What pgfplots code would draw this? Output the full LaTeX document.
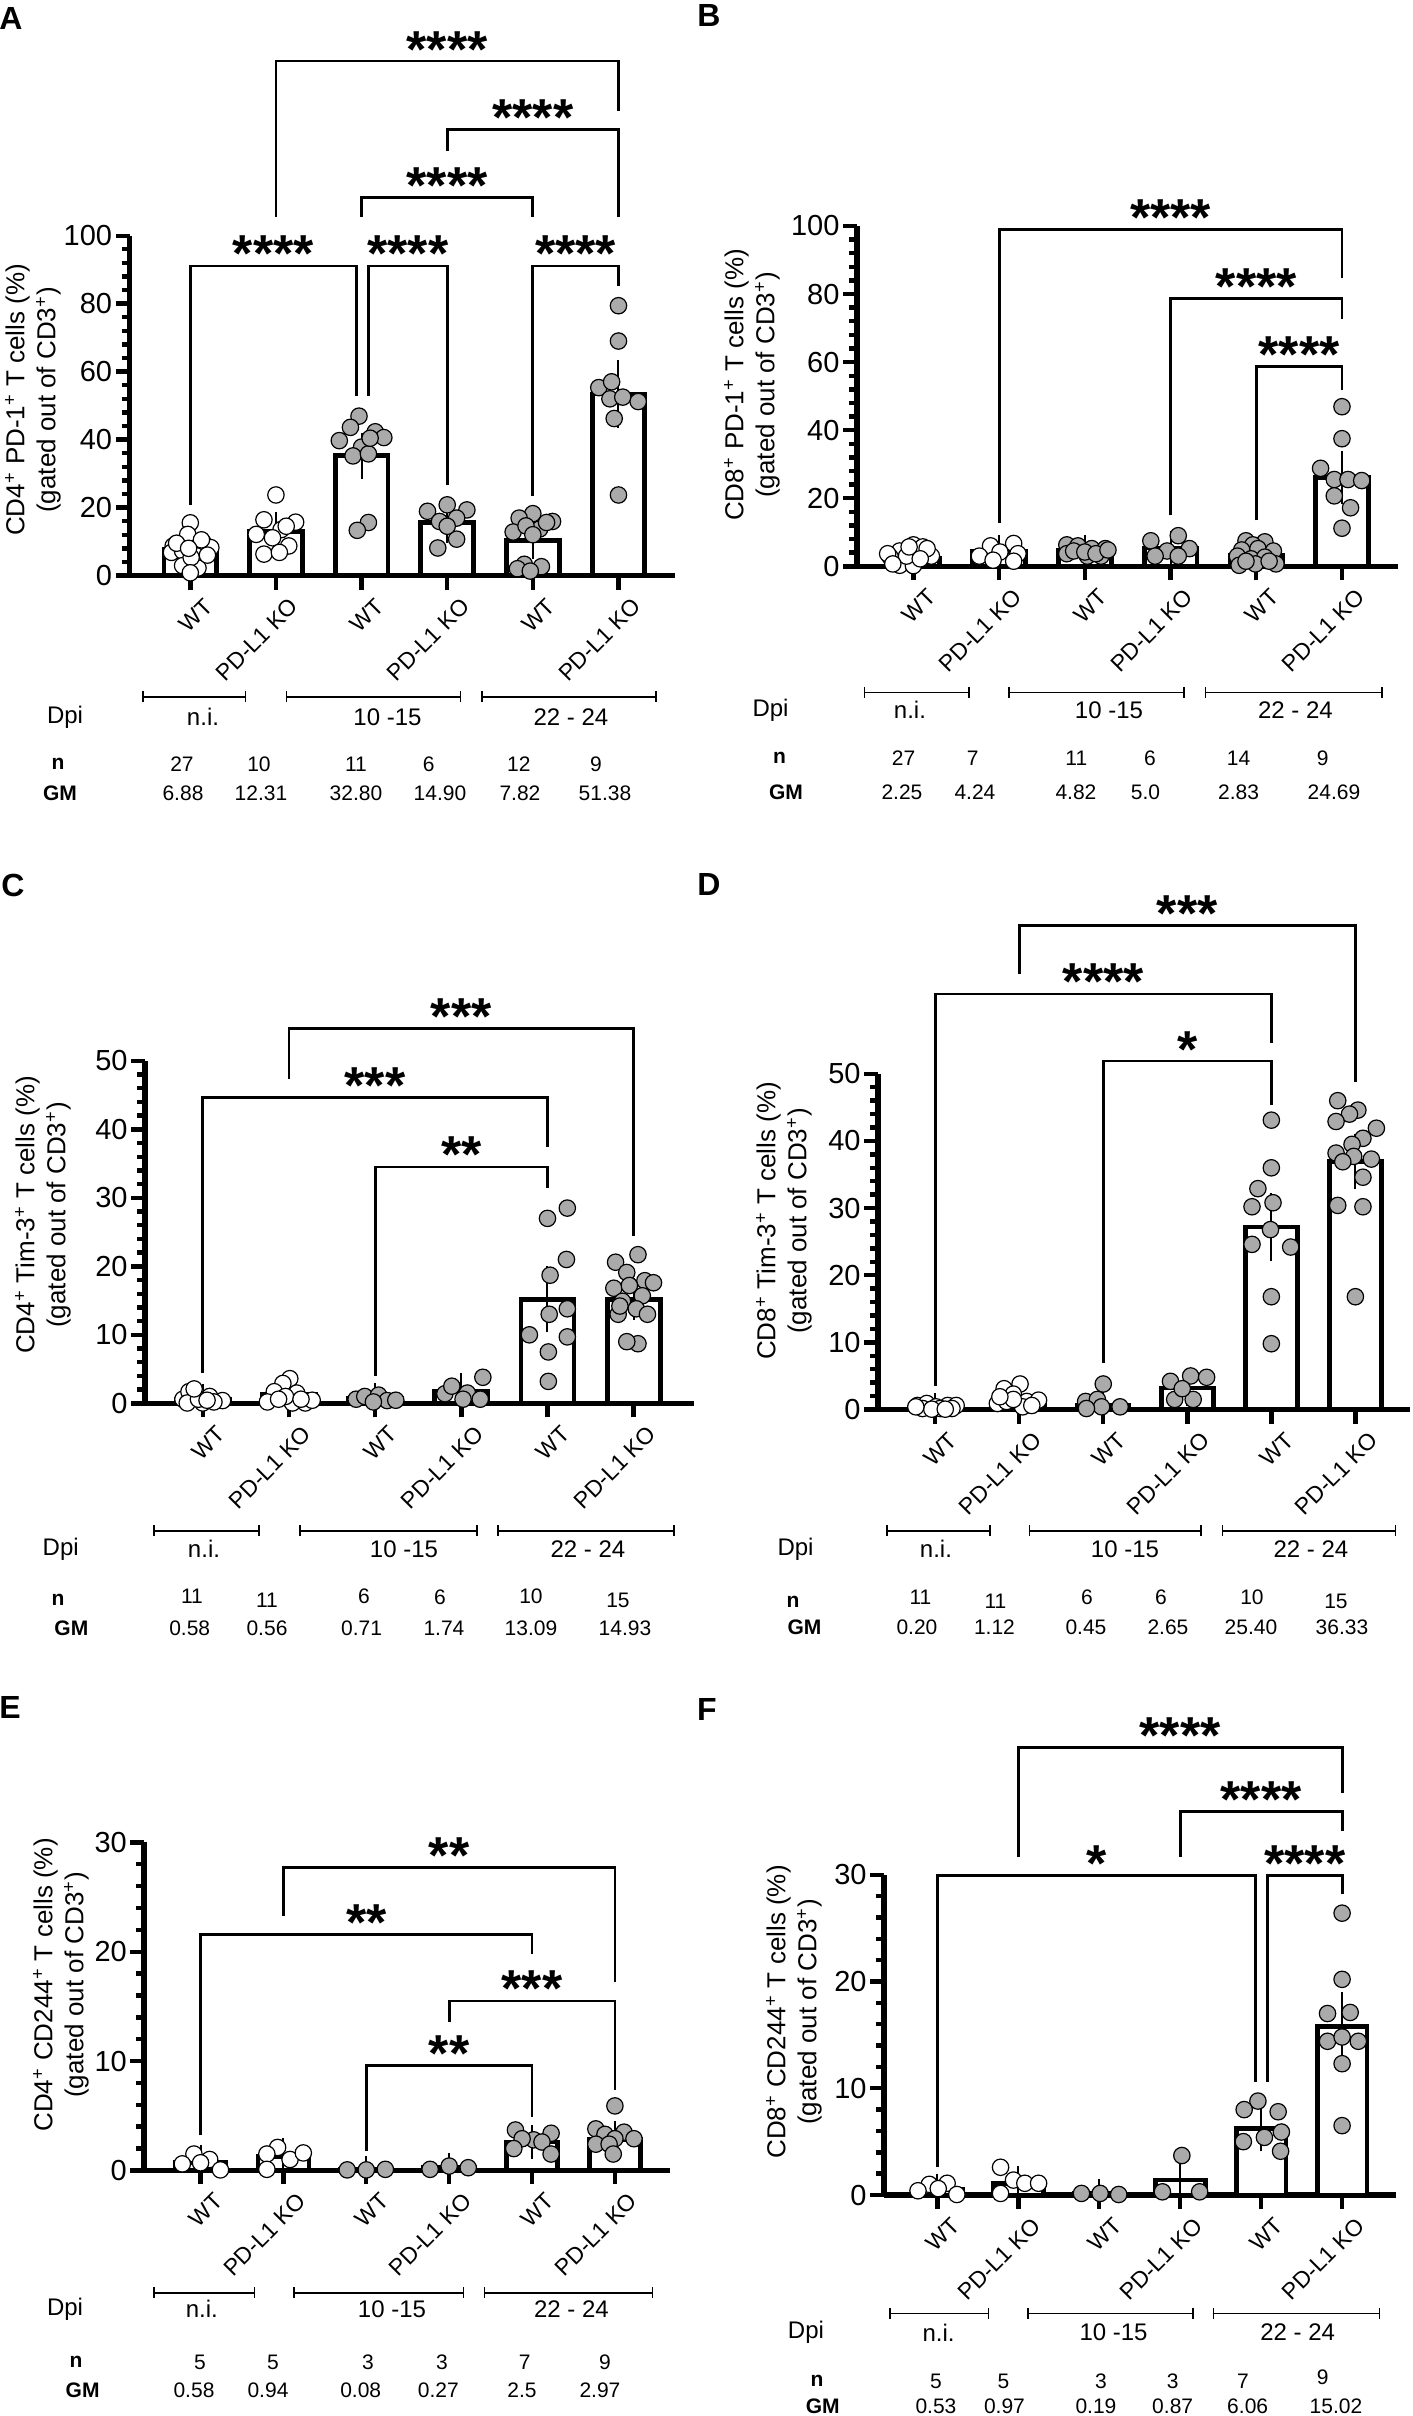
\documentclass[border=0pt]{standalone}
\usepackage{pgfplots}
\pgfplotsset{compat=1.18}
\usepackage{fontspec}
\setmainfont{Liberation Sans}
\definecolor{dotgray}{RGB}{170,170,170}

\newcommand{\fDpi}{\fontsize{12bp}{14bp}\selectfont}
\newcommand{\fNum}{\fontsize{10.5bp}{12bp}\selectfont}
\newcommand{\fLab}{\fontsize{13bp}{15.5bp}\selectfont}
\newcommand{\fLet}{\fontsize{16bp}{18bp}\selectfont\bfseries}

\pgfplotsset{
  panel/.style={
    scale only axis, anchor=south west, clip=false, enlargelimits=false,
    axis x line*=bottom, axis y line*=left,
    axis line style={line width=2.8bp,-},
    ymin=0,
    xtick={0,1,2,3,4,5},
    xticklabels={WT,PD-L1 KO,WT,PD-L1 KO,WT,PD-L1 KO},
    tick align=outside,
    major tick length=7bp, minor tick length=4bp,
    every tick/.style={black, line width=2.2bp},
    minor y tick num=4,
    /pgf/number format/assume math mode=true,
    yticklabel style={font=\fontsize{14.5bp}{16bp}\selectfont, inner sep=1.5bp},
    xticklabel style={font=\fontsize{11.5bp}{13bp}\selectfont, rotate=45, anchor=east, inner sep=1.5bp, yshift=-11bp, xshift=3.5bp},
  },
  barst/.style={ybar, bar shift=0pt, bar width=0.615, fill=white, draw=black, line width=2.4bp},
  wdots/.style={only marks, mark=*, mark size=4.1bp, mark options={draw=black, fill=white, line width=0.6bp}},
  gdots/.style={only marks, mark=*, mark size=4.1bp, mark options={draw=black, fill=dotgray, line width=0.6bp}},
  errs/.style={draw=none, mark=none, error bars/.cd, y dir=both, y explicit,
    error bar style={line width=1bp, black, draw=black}, error mark options={line width=1bp, black, draw=black, mark size=7bp}},
}
\tikzset{
  brk/.style={line width=1.4bp, black},
  stars/.style={font=\fontsize{26bp}{26bp}\selectfont\bfseries, anchor=base, yshift=-3bp, inner sep=0pt},
}
\newcommand{\sig}[6]{%
  \draw[brk] (axis cs:#1,#4) -- (axis cs:#1,#3) -- (axis cs:#2,#3) -- (axis cs:#2,#5);
  \node[stars] at (axis cs:{(#1+#2)/2},#3) {#6};}
\newcommand{\dpiline}[3]{\draw[line width=0.75bp] (#1,#3) -- (#2,#3) (#1,#3-5.5) -- (#1,#3+5.5) (#2,#3-5.5) -- (#2,#3+5.5);}

\begin{document}
\begin{tikzpicture}
\useasboundingbox (0,0) rectangle (706.5bp,-1208bp);

% ---------------- A ----------------
\begin{axis}[panel, at={(64.75bp,-287.75bp)}, width=272.75bp, height=169.9bp,
  xmin=-0.71, xmax=5.66, ymax=100, ytick={0,20,...,100}]
\addplot[barst] coordinates {(0,7.7) (1,13.0) (2,35.2) (3,15.6) (4,10.4) (5,53.4)};
\addplot[wdots] coordinates {(0,15.5) (-0.03,12.1) (-0.2,8.7) (0.15,9.7) (0.24,8.2) (-0.22,6.8) (-0.09,7.2) (0.07,5.8) (-0.09,2.9) (0.09,2.2) (0.01,5.3) (0.13,10.5) (-0.16,9.5) (0.2,6) (-0.02,8.0) (0.0,0.8)
 (1,23.7) (0.86,16.4) (1.23,15.7) (0.77,12.1) (1.06,13.5) (0.96,11.1) (1.15,8.7) (0.86,6.3) (1.04,6.8) (1.12,14.5)};
\addplot[gdots] coordinates {(1.97,46.9) (1.87,43.6) (2.16,42.3) (2.26,40.6) (1.74,39.7) (2,37.8) (1.9,35.2) (2.08,35.8) (2.1,40.4) (2.08,15.6) (1.95,13.3)
 (3,20.8) (2.77,18.9) (3.23,19.3) (2.91,15.9) (3.11,16.9) (3.11,10.7) (2.89,8.1) (3.0,14.5)
 (4,18.2) (3.84,16.9) (4.23,15.9) (3.77,12.8) (4.08,13.7) (3.92,14.6) (4.16,15.6) (4.0,12.0) (3.9,3.3) (4.1,2.6) (3.82,2.0) (3.97,1.3)
 (5,79.4) (5,69) (4.77,55.3) (4.92,57) (4.9,52) (5.05,52.5) (5.23,51.2) (4.95,46.2) (5,23.7)};
\addplot[errs] coordinates {(0,7.7) +- (0,0.8) (1,13.0) +- (0,1.6) (2,35.2) +- (0,2.6) (3,15.6) +- (0,1.8) (4,10.4) +- (0,1.3) (5,53.4) +- (0,5.8)};
\sig{0}{1.94}{91.1}{20.8}{52.7}{****}
\sig{2.08}{3}{91.1}{52.7}{26.7}{****}
\sig{4}{5}{91.1}{23.4}{85.3}{****}
\sig{2}{4}{111.3}{105.5}{105.5}{****}
\sig{3}{5}{131.3}{125}{105.5}{****}
\sig{1}{5}{151.4}{105.5}{136.7}{****}
\end{axis}

% ---------------- B ----------------
\begin{axis}[panel, at={(428.4bp,-283.15bp)}, width=270.45bp, height=170.15bp,
  xmin=-0.66, xmax=5.65, ymax=100, ytick={0,20,...,100}]
\addplot[barst] coordinates {(0,2.3) (1,4.3) (2,4.6) (3,5.4) (4,3.2) (5,26.2)};
\addplot[wdots] coordinates {(0,6.3) (0.11,5.7) (-0.16,4.5) (0.21,3.0) (-0.27,2.7) (0.05,1.5) (-0.16,0.3) (0,0.2) (-0.3,3.7) (-0.08,3.0) (0.16,5.2) (-0.24,0.7) (-0.05,5.7) (0.08,2.2)
 (1.17,6.7) (0.9,6.0) (0.77,3.0) (1.01,4.2) (1.22,3.7) (0.93,1.8) (1.17,1.5)};
\addplot[gdots] coordinates {(1.79,6.3) (1.92,6.0) (2.08,5.2) (2.24,5.2) (1.79,3.7) (2.03,3.0) (2.19,3.0) (1.87,4.5) (2,4.2) (2.13,3.7) (2.27,4.8)
 (3.09,9.0) (2.77,7.5) (3.22,5.2) (2.96,4.5) (2.82,3.0) (3.09,3.0)
 (3.88,7.5) (4.1,7.2) (3.96,6.3) (3.83,4.8) (4.02,5.2) (4.2,4.5) (3.78,3.0) (3.94,2.2) (4.1,2.7) (4.23,0.7) (3.8,0.3) (3.99,0.7) (4.15,1.5) (3.88,1.5)
 (5,46.9) (5,37.5) (4.75,28.8) (4.91,25.5) (5.07,25.5) (5.23,25.2) (4.91,20.7) (5.1,17.2) (5,11.2)};
\addplot[errs] coordinates {(0,2.3) +- (0,0.4) (1,4.3) +- (0,0.7) (2,4.6) +- (0,0.4) (3,5.4) +- (0,1.0) (4,3.2) +- (0,0.6) (5,26.2) +- (0,3.7)};
\sig{1}{5}{99}{12.7}{84.7}{****}
\sig{3}{5}{78.7}{15}{72.7}{****}
\sig{4}{5}{58.8}{13.5}{51.7}{****}
\end{axis}

% ---------------- C ----------------
\begin{axis}[panel, at={(72.5bp,-701.65bp)}, width=274.5bp, height=171.25bp,
  xmin=-0.67, xmax=5.70, ymax=50, ytick={0,10,...,50}]
\addplot[barst] coordinates {(0,0.6) (1,1.3) (2,0.7) (3,1.8) (4,15.2) (5,15.2)};
\addplot[wdots] coordinates {(-0.23,0.6) (-0.16,1.7) (-0.08,1.4) (0.08,1.0) (0.23,0.4) (0,0.05) (-0.18,0.05) (0.13,0.2) (-0.05,0.6) (0.05,0.45) (-0.1,2.1)
 (1.01,3.6) (0.93,2.9) (0.83,1.7) (1.09,1.5) (0.75,0.2) (1.04,0.05) (1.19,0.05) (1.27,0.45) (0.96,1.0) (1.14,0.6) (0.88,0.6)};
\addplot[gdots] coordinates {(1.78,0.6) (1.88,1.0) (2.04,1.2) (2.14,0.4) (2.24,0.45) (1.98,0.2)
 (2.81,1.4) (2.89,2.5) (3.07,1.5) (3.25,3.8) (3.22,0.6) (3.02,0.6)
 (4,27) (4.23,28.5) (4.22,21) (4.03,18.7) (4.23,13.8) (4.02,13) (3.79,10) (4.23,9.7) (4.01,7.5) (4.01,3.2)
 (5.05,21.7) (4.79,20.6) (4.92,19.1) (5.13,17.9) (4.77,16.8) (4.95,17.2) (5.23,17.6) (5.1,15.7) (4.87,14.9) (5.03,13.8) (4.82,13) (5.16,13) (5.05,8.7) (4.92,9) (4.84,14.2)};
\addplot[errs] coordinates {(0,0.6) +- (0,0.2) (1,1.3) +- (0,0.4) (2,0.7) +- (0,0.2) (3,1.8) +- (0,0.6) (4,15.2) +- (0,2.8) (5,15.2) +- (0,1.0)};
\sig{0}{4}{44.7}{4.4}{37.4}{***}
\sig{2}{4}{34.5}{4.0}{31.5}{**}
\sig{1}{5}{54.7}{47.4}{24.4}{***}
\end{axis}

% ---------------- D ----------------
\begin{axis}[panel, at={(439bp,-704.75bp)}, width=266bp, height=167.85bp,
  xmin=-0.68, xmax=5.65, ymax=50, ytick={0,10,...,50}]
\addplot[barst] coordinates {(0,0.25) (1,1.3) (2,0.6) (3,3.2) (4,27.2) (5,37.0)};
\addplot[wdots] coordinates {(-0.21,0.6) (-0.1,0.9) (0.01,0.4) (0.15,0.6) (0.25,0.6) (-0.15,0.15) (0.06,0.15) (-0.04,0.05) (0.2,0.15) (-0.23,0.4) (0.12,0.05)
 (1.01,3.8) (0.82,3.1) (0.93,2.3) (0.74,0.9) (1.09,1.2) (1.23,1.4) (0.85,1.2) (1.04,0.4) (1.15,0.6) (0.93,1.5) (0.77,1.9)};
\addplot[gdots] coordinates {(2,3.8) (1.79,1.2) (1.93,1.5) (1.98,0.4) (2.2,0.4) (1.8,0.15)
 (2.8,4.2) (3.04,5.0) (3.23,4.8) (2.85,1.5) (3.07,1.5) (2.94,3.1)
 (4,43.1) (4,36) (3.84,32.9) (4.02,30.8) (3.77,30.2) (3.99,26.8) (3.77,24.6) (4.23,24.2) (4,16.8) (4,9.8)
 (4.79,46) (5.03,44.6) (4.93,44) (4.77,42.9) (5.25,41.9) (5.09,40.4) (4.96,39.5) (4.77,38.2) (5.19,37.3) (4.98,37.7) (5.09,34.6) (4.79,30.4) (5.09,30.2) (5,16.8) (4.85,36.9)};
\addplot[errs] coordinates {(0,0.25) +- (0,0.1) (1,1.3) +- (0,0.35) (2,0.6) +- (0,0.6) (3,3.2) +- (0,0.6) (4,27.2) +- (0,3.0) (5,37.0) +- (0,2.0)};
\sig{0}{4}{61.9}{3.5}{54.6}{****}
\sig{2}{4}{51.9}{6.9}{45.4}{*}
\sig{1}{5}{72.1}{64.8}{48.8}{***}
\end{axis}

% ---------------- E ----------------
\begin{axis}[panel, at={(72.1bp,-1085.2bp)}, width=262.7bp, height=164bp,
  xmin=-0.68, xmax=5.66, ymax=30, ytick={0,10,20,30}]
\addplot[barst] coordinates {(0,0.7) (1,1.3) (2,0.05) (3,0.25) (4,2.6) (5,2.8)};
\addplot[wdots] coordinates {(-0.08,1.5) (0.11,1.0) (-0.22,0.6) (0,0.7) (0.24,0.05)
 (0.93,2.1) (0.8,1.5) (1.08,1.0) (1.24,1.6) (0.8,0.1)};
\addplot[gdots] coordinates {(1.77,0.05) (2,0.05) (2.23,0.1)
 (2.77,0.1) (3,0.4) (3.23,0.25)
 (3.8,3.7) (4.23,3.4) (4.02,2.8) (3.88,2.9) (4.12,2.6) (3.78,2.0) (4.23,1.5)
 (5,5.9) (4.77,3.8) (4.88,3.3) (5.11,3.5) (5.23,2.9) (5,2.9) (4.77,2.4) (4.93,2.4) (4.98,1.5)};
\addplot[errs] coordinates {(0,0.7) +- (0,0.3) (1,1.3) +- (0,0.35) (2,0.05) +- (0,0.03) (3,0.25) +- (0,0.1) (4,2.6) +- (0,0.3) (5,2.8) +- (0,0.4)};
\sig{0}{4}{21.6}{3.2}{19.8}{**}
\sig{2}{4}{9.6}{1.8}{4.9}{**}
\sig{3}{5}{15.5}{13.6}{7.4}{***}
\sig{1}{5}{27.7}{23.3}{17.2}{**}
\end{axis}

% ---------------- F ----------------
\begin{axis}[panel, at={(442bp,-1097.5bp)}, width=255.75bp, height=160.15bp,
  xmin=-0.66, xmax=5.66, ymax=30, ytick={0,10,20,30}]
\addplot[barst] coordinates {(0,0.5) (1,1.1) (2,0.15) (3,1.4) (4,6.2) (5,15.8)};
\addplot[wdots] coordinates {(-0.1,1.0) (0.12,1.1) (-0.24,0.4) (0.01,0.6) (0.24,0.05)
 (0.78,2.6) (0.94,1.4) (1.08,1.1) (1.25,1.1) (0.78,0.15)};
\addplot[gdots] coordinates {(1.78,0.15) (2.01,0.15) (2.24,0.05)
 (3.02,3.7) (2.78,0.3) (3.24,0.3)
 (3.96,8.8) (3.79,8.0) (4.21,7.8) (4.04,5.4) (4.25,5.9) (3.78,5.0) (4.24,4.1)
 (5,26.4) (5,20.2) (4.82,17.0) (5.1,17.1) (4.82,14.4) (5.2,14.4) (5,14.8) (5,12.3) (5,6.5)};
\addplot[errs] coordinates {(0,0.5) +- (0,0.2) (1,1.1) +- (0,0.3) (2,0.15) +- (0,0.05) (3,1.4) +- (0,1.2) (4,6.2) +- (0,0.8) (5,15.8) +- (0,1.9)};
\sig{0}{3.93}{29.9}{2.6}{10.6}{*}
\sig{4.08}{5}{29.9}{10.6}{28.2}{****}
\sig{3}{5}{35.9}{31.7}{34.1}{****}
\sig{1}{5}{41.9}{31.7}{37.7}{****}
\end{axis}

% ---------------- annotations (pixel coordinates, y downward) ----------------
\begin{scope}[x=0.5bp, y=-0.5bp]
% panel letters
\node[font=\fLet] at (11,18) {A};
\node[font=\fLet] at (709,15) {B};
\node[font=\fLet] at (13,885) {C};
\node[font=\fLet] at (709,885) {D};
\node[font=\fLet] at (10,1708) {E};
\node[font=\fLet] at (707,1710) {F};
% y labels
\node[font=\fLab, rotate=90, align=center] at (33,400) {CD4\textsuperscript{+} PD-1\textsuperscript{+} T cells (\%)\\(gated out of CD3\textsuperscript{+})};
\node[font=\fLab, rotate=90, align=center] at (752,385) {CD8\textsuperscript{+} PD-1\textsuperscript{+} T cells (\%)\\(gated out of CD3\textsuperscript{+})};
\node[font=\fLab, rotate=90, align=center] at (43,1215) {CD4\textsuperscript{+} Tim-3\textsuperscript{+} T cells (\%)\\(gated out of CD3\textsuperscript{+})};
\node[font=\fLab, rotate=90, align=center] at (784,1221) {CD8\textsuperscript{+} Tim-3\textsuperscript{+} T cells (\%)\\(gated out of CD3\textsuperscript{+})};
\node[font=\fLab, rotate=90, align=center] at (61,1985) {CD4\textsuperscript{+} CD244\textsuperscript{+} T cells (\%)\\(gated out of CD3\textsuperscript{+})};
\node[font=\fLab, rotate=90, align=center] at (794,2012) {CD8\textsuperscript{+} CD244\textsuperscript{+} T cells (\%)\\(gated out of CD3\textsuperscript{+})};

% A
\dpiline{143}{245.5}{697} \dpiline{286.6}{460.7}{697} \dpiline{482}{656}{697}
\begin{scope}[font=\fDpi]
\node[anchor=west] at (40,717) {Dpi};
\node at (203,717) {n.i.}; \node at (387.5,717) {10 -15}; \node at (571,717) {22 - 24};
\end{scope}
\begin{scope}[font=\fNum]
\node[font=\fNum\bfseries] at (58,764) {n}; \node[font=\fNum\bfseries] at (60,793) {GM};
\node at (182,764) {27}; \node at (259,764) {10}; \node at (356,764) {11}; \node at (428.6,764) {6}; \node at (518.8,764) {12}; \node at (596,764) {9};
\node at (183,793) {6.88}; \node at (261,793) {12.31}; \node at (356,793) {32.80}; \node at (440,793) {14.90}; \node at (520,793) {7.82}; \node at (605,793) {51.38};
\end{scope}

% B
\dpiline{864.5}{969}{692.3} \dpiline{1009}{1184}{692.3} \dpiline{1205.5}{1381.8}{692.3}
\begin{scope}[font=\fDpi]
\node[anchor=west] at (745.5,710) {Dpi};
\node at (910,710) {n.i.}; \node at (1109,710) {10 -15}; \node at (1295.5,710) {22 - 24};
\end{scope}
\begin{scope}[font=\fNum]
\node[font=\fNum\bfseries] at (779.5,758) {n}; \node[font=\fNum\bfseries] at (786,792) {GM};
\node at (903.6,758) {27}; \node at (972.7,758) {7}; \node at (1076.4,758) {11}; \node at (1150,758) {6}; \node at (1238.6,758) {14}; \node at (1322.7,758) {9};
\node at (902,792) {2.25}; \node at (975,792) {4.24}; \node at (1076,792) {4.82}; \node at (1145.5,792) {5.0}; \node at (1238.6,792) {2.83}; \node at (1334,792) {24.69};
\end{scope}

% C
\dpiline{154}{259}{1531} \dpiline{300}{476.8}{1531} \dpiline{497.8}{674}{1531}
\begin{scope}[font=\fDpi]
\node[anchor=west] at (35.7,1549) {Dpi};
\node at (204,1549) {n.i.}; \node at (404,1549) {10 -15}; \node at (588,1549) {22 - 24};
\end{scope}
\begin{scope}[font=\fNum]
\node[font=\fNum\bfseries] at (58,1600) {n}; \node[font=\fNum\bfseries] at (71.4,1628) {GM};
\node at (192,1596) {11}; \node at (267,1600) {11}; \node at (364,1596) {6}; \node at (440,1597) {6}; \node at (531,1596) {10}; \node at (618,1600) {15};
\node at (189.7,1628) {0.58}; \node at (267,1628) {0.56}; \node at (361.6,1628) {0.71}; \node at (444,1628) {1.74}; \node at (531,1628) {13.09}; \node at (625,1628) {14.93};
\end{scope}

% D
\dpiline{887}{990}{1531} \dpiline{1029.5}{1201}{1531} \dpiline{1222.7}{1395.5}{1531}
\begin{scope}[font=\fDpi]
\node[anchor=west] at (770.5,1549) {Dpi};
\node at (936,1549) {n.i.}; \node at (1125,1549) {10 -15}; \node at (1311,1549) {22 - 24};
\end{scope}
\begin{scope}[font=\fNum]
\node[font=\fNum\bfseries] at (793,1602) {n}; \node[font=\fNum\bfseries] at (804.5,1627) {GM};
\node at (920.5,1597) {11}; \node at (995.5,1601) {11}; \node at (1087,1597) {6}; \node at (1161,1597) {6}; \node at (1252,1597) {10}; \node at (1336,1601) {15};
\node at (917,1627) {0.20}; \node at (994.5,1627) {1.12}; \node at (1086,1627) {0.45}; \node at (1168,1627) {2.65}; \node at (1251,1627) {25.40}; \node at (1342,1627) {36.33};
\end{scope}

% E
\dpiline{154}{254.5}{2293} \dpiline{293.8}{463.4}{2293} \dpiline{484.4}{652.7}{2293}
\begin{scope}[font=\fDpi]
\node[anchor=west] at (40,2309) {Dpi};
\node at (201.8,2309) {n.i.}; \node at (392,2309) {10 -15}; \node at (571.4,2309) {22 - 24};
\end{scope}
\begin{scope}[font=\fNum]
\node[font=\fNum\bfseries] at (76,2362) {n}; \node[font=\fNum\bfseries] at (82.6,2390) {GM};
\node at (200,2362) {5}; \node at (273,2362) {5}; \node at (368,2362) {3}; \node at (442,2362) {3}; \node at (524.6,2362) {7}; \node at (605,2362) {9};
\node at (194,2390) {0.58}; \node at (268,2390) {0.94}; \node at (360.7,2390) {0.08}; \node at (438.4,2390) {0.27}; \node at (522,2390) {2.5}; \node at (600,2390) {2.97};
\end{scope}

% F
\dpiline{890}{988.6}{2313.3} \dpiline{1028}{1193}{2313.3} \dpiline{1213.6}{1379.5}{2313.3}
\begin{scope}[font=\fDpi]
\node[anchor=west] at (780.9,2332.4) {Dpi};
\node at (938.6,2332.4) {n.i.}; \node at (1113.6,2332.4) {10 -15}; \node at (1297.7,2332.4) {22 - 24};
\end{scope}
\begin{scope}[font=\fNum]
\node[font=\fNum\bfseries] at (817,2381) {n}; \node[font=\fNum\bfseries] at (822.7,2406) {GM};
\node at (936,2381) {5}; \node at (1003.6,2381) {5}; \node at (1101,2381) {3}; \node at (1172.7,2381) {3}; \node at (1243,2381) {7}; \node at (1322.7,2377) {9};
\node at (936,2406) {0.53}; \node at (1004.5,2406) {0.97}; \node at (1096,2406) {0.19}; \node at (1172.7,2406) {0.87}; \node at (1247.7,2406) {6.06}; \node at (1336,2406) {15.02};
\end{scope}
\end{scope}
\end{tikzpicture}
\end{document}
